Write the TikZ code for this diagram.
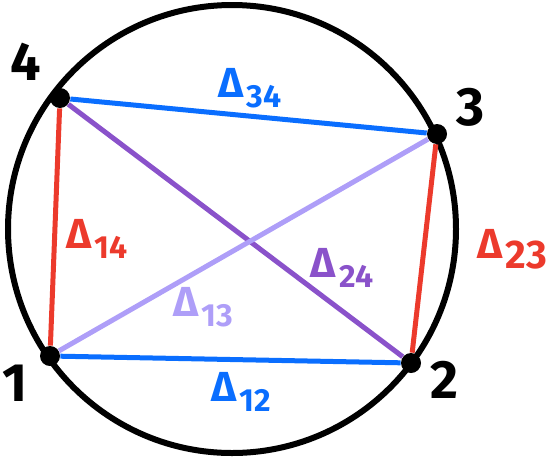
\documentclass[tikz,border=0pt]{standalone}
\usepackage{fontspec}
\setmainfont{Fira Sans}
\definecolor{dblue}{HTML}{0A6EFF}
\definecolor{dred}{HTML}{EC3A2C}
\definecolor{dpurple}{HTML}{8A52CA}
\definecolor{dlilac}{HTML}{AE9EF8}
\newcommand{\textDelta}{Δ}
\newcommand{\dlab}[2]{{\fontsize{21}{21}\selectfont\textDelta}\,\raisebox{-5pt}{\fontsize{#1}{#1}\selectfont #2}}
\tikzset{
  pt/.style={circle,fill=black,inner sep=0pt,minimum size=10pt},
  edge/.style={line width=2.5pt},
  num/.style={font=\fontsize{27}{27}\selectfont\bfseries,text=black,inner sep=0pt},
  dl/.style={inner sep=0pt,font=\bfseries}
}
\begin{document}
\begin{tikzpicture}[x=0.5pt,y=-0.5pt]
\useasboundingbox (0,0) rectangle (556,461);
\draw[line width=3pt] (232,229) circle[radius=112pt];
\node[pt] (p4) at (60,98) {};
\node[pt] (p3) at (437,134) {};
\node[pt] (p1) at (50,356) {};
\node[pt] (p2) at (411,363) {};
\draw[edge,dblue] (p4) -- (p3);
\draw[edge,dblue] (p1) -- (p2);
\draw[edge,dred] (p4) -- (p1);
\draw[edge,dred] (p3) -- (p2);
\draw[edge,dpurple] (p4) -- (p2);
\draw[edge,dlilac] (p1) -- (p3);
\node[num] (n4) at (26,62) {4};
\node[num] (n3) at (471,107) {3};
\node[num] (n1) at (15,383) {1};
\node[num] (n2) at (444,380) {2};
\node[dl,text=dblue] (d34) at (250,88) {\dlab{16}{34}};
\node[dl,text=dred] (d14) at (97,239) {\dlab{16}{14}};
\node[dl,text=dred] (d23) at (512,249) {\dlab{20}{23}};
\node[dl,text=dpurple] (d24) at (342,268) {\dlab{16}{24}};
\node[dl,text=dlilac] (d13) at (203,307) {\dlab{16}{13}};
\node[dl,text=dblue] (d12) at (241,392) {\dlab{16}{12}};
\end{tikzpicture}
\end{document}
